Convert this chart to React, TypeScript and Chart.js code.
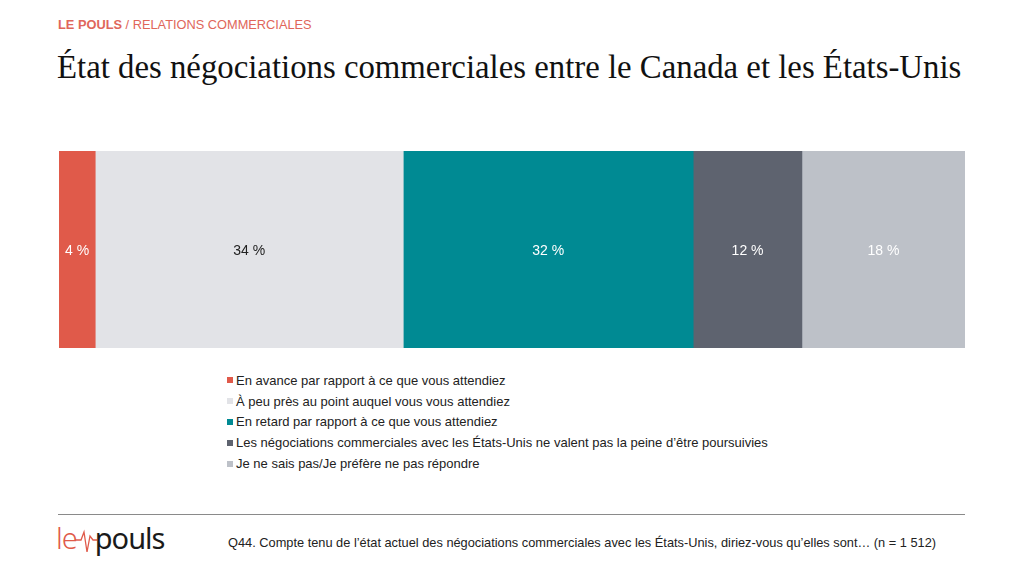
import { Chart, registerables } from "chart.js";
import { useEffect, useRef } from "react";

Chart.register(...registerables);

const categories = ["Total"];
const seriesLabels = [
  "En avance par rapport à ce que vous attendiez",
  "À peu près au point auquel vous vous attendiez",
  "En retard par rapport à ce que vous attendiez",
  "Les négociations commerciales avec les États-Unis ne valent pas la peine d’être poursuivies",
  "Je ne sais pas/Je préfère ne pas répondre",
];
const seriesValues = [4, 34, 32, 12, 18];
const seriesColors = ["#e05a4a", "#e2e3e7", "#008a93", "#5e636f", "#bdc1c8"];
const labelColors = ["#ffffff", "#222222", "#ffffff", "#ffffff", "#ffffff"];

const valueLabels = {
  id: "valueLabels",
  afterDatasetsDraw(chart: Chart) {
    const ctx = chart.ctx;
    ctx.save();
    ctx.font = "14px 'Liberation Sans', Arial, sans-serif";
    ctx.textAlign = "center";
    ctx.textBaseline = "middle";
    chart.data.datasets.forEach((ds, i) => {
      const meta = chart.getDatasetMeta(i);
      meta.data.forEach((el: any, j) => {
        const v = ds.data[j] as number;
        const x = (el.x + el.base) / 2;
        ctx.fillStyle = labelColors[i];
        ctx.fillText(v + " %", x, el.y + 2);
      });
    });
    ctx.restore();
  },
};

function StackedBar() {
  const canvasRef = useRef<HTMLCanvasElement | null>(null);
  const chartRef = useRef<Chart<"bar", number[], string> | null>(null);

  useEffect(() => {
    if (!canvasRef.current) return;
    chartRef.current = new Chart(canvasRef.current, {
      type: "bar",
      data: {
        labels: categories,
        datasets: seriesLabels.map((label, i) => ({
          label,
          data: [seriesValues[i]],
          backgroundColor: seriesColors[i],
          borderWidth: 0,
          categoryPercentage: 1,
          barPercentage: 1,
        })),
      },
      options: {
        indexAxis: "y",
        animation: false,
        responsive: true,
        maintainAspectRatio: false,
        layout: { padding: 0 },
        plugins: {
          legend: { display: false },
          tooltip: { enabled: false },
        },
        scales: {
          x: { stacked: true, min: 0, max: 100, display: false },
          y: { stacked: true, display: false },
        },
      },
      plugins: [valueLabels],
    });
    return () => {
      chartRef.current?.destroy();
    };
  }, []);

  return <canvas ref={canvasRef} />;
}

const sans = "'Liberation Sans', Arial, sans-serif";

export default function App() {
  return (
    <div
      style={{
        position: "fixed",
        left: 0,
        top: 0,
        width: 1024,
        height: 576,
        background: "#ffffff",
        fontFamily: sans,
        overflow: "hidden",
      }}
    >
      <div style={{ position: "absolute", left: 58, top: 17, fontSize: 12.8, color: "#e0665a" }}>
        <b>LE POULS</b> / RELATIONS COMMERCIALES
      </div>
      <div
        style={{
          position: "absolute",
          left: 57,
          top: 49,
          fontSize: 32.8,
          fontFamily: "'Liberation Serif', 'Times New Roman', serif",
          color: "#111111",
          whiteSpace: "nowrap",
        }}
      >
        État des négociations commerciales entre le Canada et les États-Unis
      </div>
      <div style={{ position: "absolute", left: 59, top: 151, width: 906, height: 197 }}>
        <StackedBar />
      </div>
      <div style={{ position: "absolute", left: 227, top: 370 }}>
        {seriesLabels.map((label, i) => (
          <div
            key={label}
            style={{ display: "flex", alignItems: "center", height: 20.8, fontSize: 13, color: "#222222" }}
          >
            <span
              style={{
                display: "inline-block",
                width: 6,
                height: 6,
                background: seriesColors[i],
                marginRight: 3,
              }}
            />
            {label}
          </div>
        ))}
      </div>
      <div
        style={{ position: "absolute", left: 58, top: 514, width: 907, height: 1, background: "#8a8a8a" }}
      />
      <div
        style={{
          position: "absolute",
          left: 56,
          top: 518,
          display: "flex",
          alignItems: "center",
          fontFamily: "'Noto Sans', sans-serif",
          fontSize: 29,
          lineHeight: "40px",
          letterSpacing: -1,
        }}
      >
        <span style={{ color: "#e05a4a", fontWeight: 300 }}>le</span>
        <svg width="22" height="40" viewBox="0 0 22 40" style={{ margin: "0 -2px" }}>
          <polyline
            points="0,22 6,22 9,14 12,34 15,18 18,22 22,22"
            fill="none"
            stroke="#e05a4a"
            strokeWidth="1.3"
          />
        </svg>
        <span style={{ color: "#1a1a1a", fontWeight: 400 }}>pouls</span>
      </div>
      <div
        style={{ position: "absolute", left: 228, top: 535, fontSize: 12.8, color: "#222222", whiteSpace: "nowrap" }}
      >
        Q44. Compte tenu de l’état actuel des négociations commerciales avec les États-Unis, diriez-vous qu’elles sont… (n = 1 512)
      </div>
    </div>
  );
}
